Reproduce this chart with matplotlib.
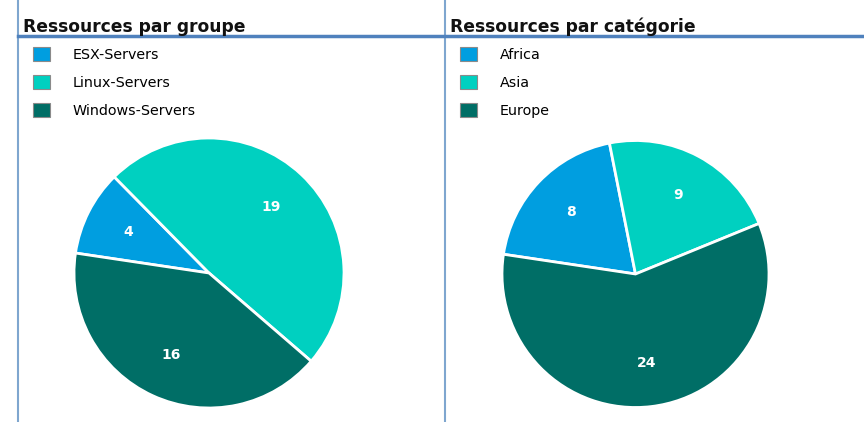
import matplotlib.pyplot as plt
from matplotlib.lines import Line2D

# data
groups = ["ESX-Servers", "Linux-Servers", "Windows-Servers"]
group_counts = [4, 19, 16]
categories = ["Africa", "Asia", "Europe"]
category_counts = [8, 9, 24]
colors = ["#009ee0", "#00d0c0", "#006e66"]

W, H = 864, 422
fig = plt.figure(figsize=(W / 100, H / 100), dpi=100)


def px_axes(x0, y0, x1, y1):
    # pixel box (top-left origin) -> figure axes
    return fig.add_axes([x0 / W, 1 - y1 / H, (x1 - x0) / W, (y1 - y0) / H])


def draw_panel(title, labels, counts, tx, box):
    fig.text(tx / W, 1 - 32 / H, title, fontsize=12.3, fontweight="bold",
             color="#111111", ha="left", va="baseline")
    ax = px_axes(*box)
    wedges, texts = ax.pie(counts, colors=colors, startangle=171.5, counterclock=False,
                           labels=[str(c) for c in counts], labeldistance=0.67,
                           wedgeprops=dict(edgecolor="white", linewidth=2),
                           textprops=dict(color="white", fontsize=10, fontweight="bold",
                                          ha="center", va="center"))
    ax.set_xlim(-1, 1)
    ax.set_ylim(-1, 1)
    ax.set_aspect("equal")
    ax.axis("off")
    handles = [plt.Rectangle((0, 0), 1, 1, facecolor=c, edgecolor="#8a8a8a", linewidth=0.8)
               for c in colors]
    fig.legend(handles, labels, loc="upper left",
               bbox_to_anchor=((tx + 10) / W, 1 - 47 / H), frameon=False,
               fontsize=10.3, handlelength=1.17, handleheight=1.17, handletextpad=1.6,
               labelspacing=0.9, borderpad=0, borderaxespad=0)


draw_panel("Ressources par groupe", groups, group_counts, 23, (74, 138, 344, 408))
draw_panel("Ressources par catégorie", categories, category_counts, 450, (502, 139, 769, 409))

# panel frame lines
line_blue = "#7fa6cf"
fig.add_artist(Line2D([18 / W, 18 / W], [0, 1], color=line_blue, linewidth=1.5))
fig.add_artist(Line2D([445 / W, 445 / W], [0, 1], color=line_blue, linewidth=1.5))
fig.add_artist(Line2D([18 / W, 1], [1 - 36 / H, 1 - 36 / H], color="#4f81bd", linewidth=2.5))

fig.savefig("out.png", dpi=100)
